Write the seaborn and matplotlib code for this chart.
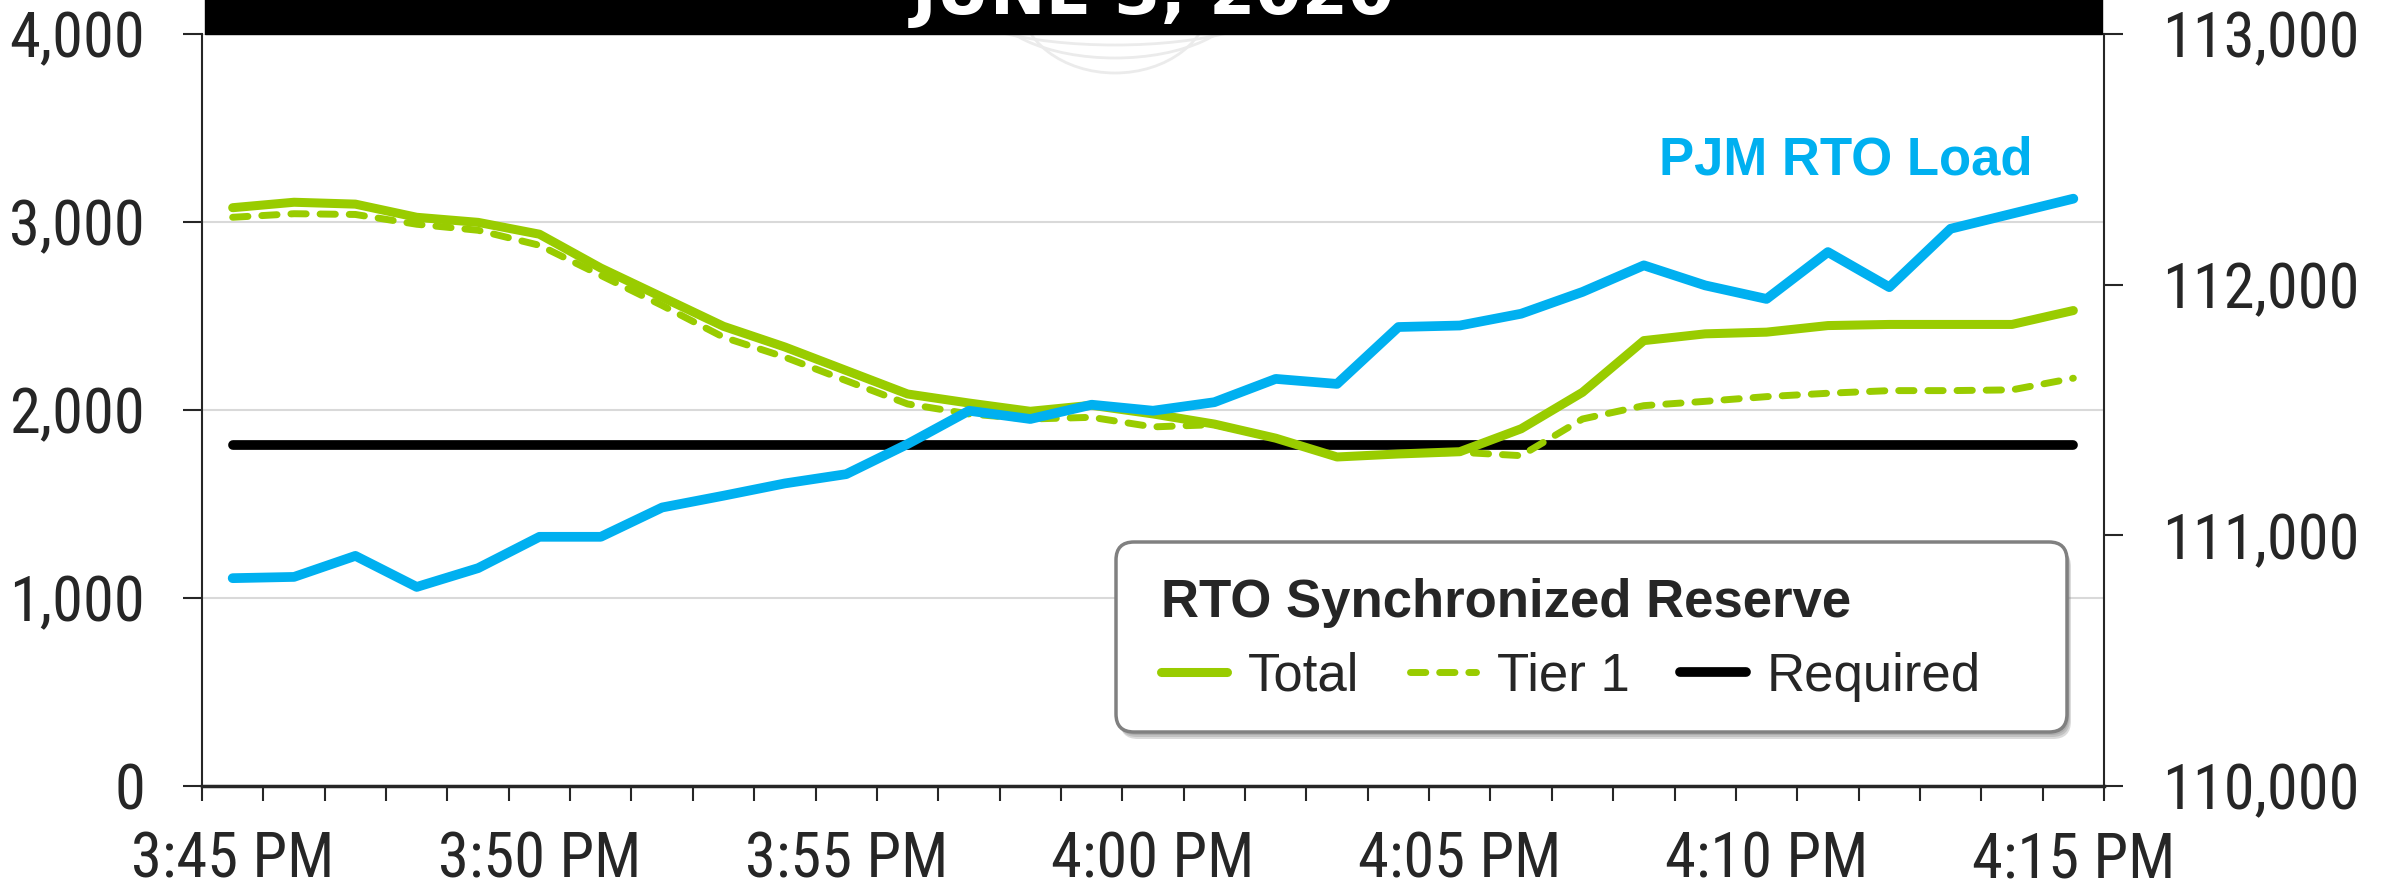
import numpy as np
import pandas as pd
import seaborn as sns
import matplotlib.pyplot as plt
from matplotlib import font_manager as fm
from matplotlib.patches import Rectangle, Arc, FancyBboxPatch
from matplotlib.transforms import IdentityTransform, Affine2D
from matplotlib.ticker import StrMethodFormatter

# one value per minute, 3:45 PM .. 4:15 PM
minute = list(range(31))
tick_labels = ['3:45 PM', '3:50 PM', '3:55 PM', '4:00 PM', '4:05 PM', '4:10 PM', '4:15 PM']

total = [3076, 3105, 3095, 3025, 2998, 2935, 2755, 2600, 2445, 2335, 2210, 2085, 2037, 1993, 2025, 1979,
         1925, 1850, 1750, 1766, 1778, 1900, 2094, 2369, 2405, 2414, 2449, 2455, 2455, 2455, 2529]
tier1 = [3025, 3044, 3040, 2988, 2956, 2876, 2716, 2556, 2387, 2281, 2156, 2032, 1979, 1952, 1961, 1910,
         1922, 1850, 1750, 1766, 1775, 1757, 1952, 2023, 2046, 2071, 2089, 2103, 2103, 2107, 2169]
required = [1815] * 31
load = [110829, 110834, 110918, 110794, 110869, 110994, 110994, 111111, 111158, 111207, 111244, 111364,
        111497, 111464, 111521, 111497, 111531, 111624, 111604, 111831, 111837, 111884, 111971, 112077,
        111997, 111943, 112130, 111990, 112223, 112283, 112343]

df = pd.DataFrame({'minute': minute, 'Total': total, 'Tier 1': tier1,
                   'Required': required, 'Load': load})

sns.set_style('white')
plt.rcParams['font.family'] = ['Liberation Sans', 'DejaVu Sans']

# look for a narrow sans for the tick labels (Arial Narrow look)
fonts = {(f.name, f.stretch) for f in fm.fontManager.ttflist}
tick_fp = None
for name in ['Liberation Sans Narrow', 'Arial Narrow', 'Roboto Condensed', 'Open Sans Condensed']:
    if any(n == name for n, _ in fonts):
        tick_fp = fm.FontProperties(family=name, size=45)
        break
if tick_fp is None and ('DejaVu Sans', 'condensed') in fonts:
    tick_fp = fm.FontProperties(family='DejaVu Sans', stretch='condensed', size=41)
if tick_fp is None:
    tick_fp = fm.FontProperties(family='Liberation Sans', size=38)

GREEN = '#99cc00'
BLUE = '#00b0f0'

fig = plt.figure(figsize=(23.82, 8.9), dpi=100)
ax = fig.add_axes([0.0848, 0.1169, 0.7985, 0.8449])

sns.lineplot(data=df, x='minute', y='Required', ax=ax, color='black', linewidth=7,
             solid_capstyle='round', zorder=2)
sns.lineplot(data=df, x='minute', y='Total', ax=ax, color=GREEN, linewidth=6.5,
             solid_capstyle='round', zorder=3)
sns.lineplot(data=df, x='minute', y='Tier 1', ax=ax, color=GREEN, linewidth=5,
             linestyle=(0, (2.2, 2.0)), dash_capstyle='round', zorder=4)
h_req, h_total, h_tier1 = ax.get_lines()[:3]

ax.set_xlim(-0.5, 30.5)
ax.set_ylim(0, 4000)
ax.set_yticks([0, 1000, 2000, 3000, 4000])
ax.yaxis.set_major_formatter(StrMethodFormatter('{x:,.0f}'))
ax.set_xticks(range(0, 31, 5), labels=tick_labels)
ax.set_xticks(np.arange(-0.5, 31, 1), minor=True)
ax.tick_params(axis='x', which='major', length=0, pad=32)
ax.tick_params(axis='x', which='minor', length=11, width=1.5, direction='out', bottom=True)
ax.tick_params(axis='y', length=14, width=1.5, pad=27, left=True)
ax.set_xlabel('')
ax.set_ylabel('')
ax.yaxis.grid(True, color='#d9d9d9', linewidth=1.5)
ax.set_axisbelow(True)
for s in ['top', 'right']:
    ax.spines[s].set_visible(False)
ax.spines['left'].set_linewidth(1.5)
ax.spines['bottom'].set_linewidth(2.5)

ax2 = ax.twinx()
sns.lineplot(data=df, x='minute', y='Load', ax=ax2, color=BLUE, linewidth=7,
             solid_capstyle='round', zorder=5)
ax2.set_ylim(110000, 113000)
ax2.set_yticks([110000, 111000, 112000, 113000])
ax2.yaxis.set_major_formatter(StrMethodFormatter('{x:,.0f}'))
ax2.tick_params(axis='y', length=14, width=1.5, pad=28, right=True)
ax2.set_ylabel('')
for s in ['top', 'left', 'bottom']:
    ax2.spines[s].set_visible(False)
ax2.spines['right'].set_linewidth(1.5)

for lab in ax.get_xticklabels() + ax.get_yticklabels() + ax2.get_yticklabels():
    lab.set_fontproperties(tick_fp)

ax2.text(0.9627, 0.8125, 'PJM RTO Load', transform=ax.transAxes, ha='right', va='baseline',
         color=BLUE, fontsize=38, fontweight='bold', family='Liberation Sans')

# legend frame drawn by hand (pixel box, rounded, soft shadow), legend itself frameless
box_x, box_y, box_w, box_h = 1116, 890 - 732, 951, 190
for k, (dx, dy) in enumerate([(2, -3), (3, -5), (4, -7)]):
    ax2.add_patch(FancyBboxPatch((box_x + dx, box_y + dy), box_w, box_h,
                                 boxstyle='round,pad=0,rounding_size=18', facecolor='#7f7f7f',
                                 edgecolor='none', alpha=0.28, transform=IdentityTransform(),
                                 zorder=6))
ax2.add_patch(FancyBboxPatch((box_x, box_y), box_w, box_h,
                             boxstyle='round,pad=0,rounding_size=18', facecolor='white',
                             edgecolor='#808080', linewidth=2.5, transform=IdentityTransform(),
                             zorder=6.5))

leg = ax2.legend(handles=[h_total, h_tier1, h_req], labels=['Total', 'Tier 1', 'Required'],
                 title='RTO Synchronized Reserve', ncol=3, loc='upper left',
                 bbox_to_anchor=((1161 - 202) / 1902, (786 - 578) / 752), borderaxespad=0,
                 frameon=False, prop={'family': 'Liberation Sans', 'size': 38},
                 title_fontproperties={'family': 'Liberation Sans', 'weight': 'bold', 'size': 38},
                 alignment='left', handlelength=1.25, handletextpad=0.4, columnspacing=0.95,
                 borderpad=0, labelspacing=0.45)
leg.set_zorder(7)

# faint logo watermark under the title band
for w, h, yc in [(330, 90, 890), (250, 116, 890), (190, 146, 890)]:
    fig.add_artist(Arc((1115, yc), w, h, theta1=180, theta2=360, color='#ebebeb',
                       linewidth=2, transform=IdentityTransform(), zorder=1))

# black title band, text cut off by the top edge
fig.add_artist(Rectangle((205 / 2382, 0.9618), (2102 - 205) / 2382, 0.05, color='black',
                         transform=fig.transFigure, zorder=2))
fig.text(0.4843, 1 - 14 / 890, 'JUNE 3, 2020', ha='center', va='baseline', color='white',
         fontsize=48, fontweight='bold', family='DejaVu Sans', zorder=3)

fig.savefig('out.png', dpi=100)
